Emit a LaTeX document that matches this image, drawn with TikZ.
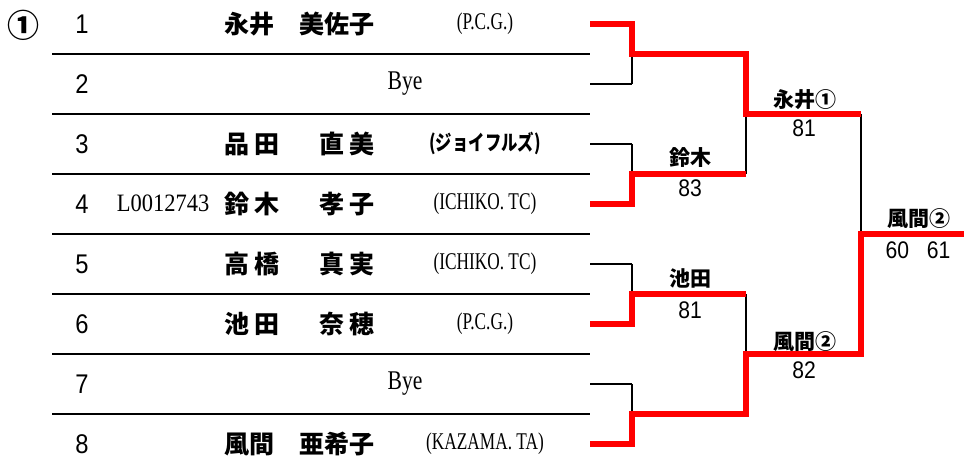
\documentclass[tikz,border=0pt]{standalone}
\usepackage{fontspec}
\usepackage{graphicx}
\newfontfamily\jp{Noto Sans CJK JP}
\newfontfamily\numf{Liberation Sans}[FakeStretch=0.88]
\newfontfamily\serf{Liberation Serif}[FakeStretch=0.72]
\newfontfamily\idf{Liberation Serif}[FakeStretch=0.9]
\newfontfamily\byef{Liberation Serif}[FakeStretch=0.8]
\newcommand\fivenm[5]{#1#2\hspace{25pt}#3#4#5}
\newcommand\fournm[4]{#1\hspace{5pt}#2\hspace{40pt}#3\hspace{5pt}#4}
\tikzset{
  rowline/.style={line width=2.2pt, black},
  winline/.style={line width=6.5pt, red, line join=miter},
  blkh/.style={line width=2.6pt, black},
  blkv/.style={line width=1.6pt, black},
  numtxt/.style={inner sep=0pt, font=\numf\fontsize{27}{30}\selectfont},
  nmtxt/.style={inner sep=0pt, anchor=west, font=\jp\bfseries\fontsize{25}{30}\selectfont},
  afftxt/.style={inner sep=0pt, font=\serf\fontsize{24}{28}\selectfont},
  byetxt/.style={inner sep=0pt, font=\byef\fontsize{27}{30}\selectfont},
  wintxt/.style={inner sep=0pt, font=\jp\bfseries\fontsize{21}{24}\selectfont},
  scoretxt/.style={inner sep=0pt, font=\numf\fontsize{24}{28}\selectfont}
}
\begin{document}
\begin{tikzpicture}[x=1pt,y=-1pt]
\useasboundingbox (0,0) rectangle (964,473);
% seed mark
\node[inner sep=0pt, font=\jp\bfseries\fontsize{32}{34}\selectfont] (seed) at (23,25) {①};
% row numbers
\foreach \i in {1,...,8} {
  \node[numtxt] (r\i) at (82,{24+60*(\i-1)}) {\i};
}
% separators
\draw[rowline, line width=2.8pt] (52,54) -- (590,54);
\foreach \y in {114,174,234,294,354,414} {
  \draw[rowline] (52,\y) -- (590,\y);
}
% names
\node[nmtxt] (n1) at (224,24) {\fivenm{永}{井}{美}{佐}{子}};
\node[byetxt] (n2) at (405,84) {Bye};
\node[nmtxt] (n3) at (224,144) {\fournm{品}{田}{直}{美}};
\node[inner sep=0pt, font=\idf\fontsize{25}{28}\selectfont] (id4) at (163,203) {L0012743};
\node[nmtxt] (n4) at (224,204) {\fournm{鈴}{木}{孝}{子}};
\node[nmtxt] (n5) at (224,264) {\fournm{高}{橋}{真}{実}};
\node[nmtxt] (n6) at (224,324) {\fournm{池}{田}{奈}{穂}};
\node[byetxt] (n7) at (405,384) {Bye};
\node[nmtxt] (n8) at (224,444) {\fivenm{風}{間}{亜}{希}{子}};
% affiliations
\node[afftxt] (a1) at (485,24) {(P.C.G.)};
\node[inner sep=0pt] (a3) at (485,143) {\scalebox{0.78}[1]{\jp\bfseries\fontsize{21}{24}\selectfont (ジョイフルズ)}};
\node[afftxt] (a4) at (485,204) {(ICHIKO. TC)};
\node[afftxt] (a5) at (485,264) {(ICHIKO. TC)};
\node[afftxt] (a6) at (485,324) {(P.C.G.)};
\node[afftxt] (a8) at (485,444) {(KAZAMA. TA)};
% bracket coordinates
\foreach \i in {1,...,8} {
  \coordinate (e\i) at (590,{24+60*(\i-1)});
}
\coordinate (m12) at (632,54);
\coordinate (m34) at (632,174);
\coordinate (m56) at (632,294);
\coordinate (m78) at (632,414);
\coordinate (s1) at (746,114);
\coordinate (s2) at (746,354);
\coordinate (f) at (861,234);
\coordinate (fe) at (964,234);
% black (losing) lines
\draw[blkh] (e2) -- (e2 -| m12);
\draw[blkv] (e2 -| m12) -- (m12);
\draw[blkh] (e3) -- (e3 -| m34);
\draw[blkv] (e3 -| m34) -- (m34);
\draw[blkh] (e5) -- (e5 -| m56);
\draw[blkv] (e5 -| m56) -- (m56);
\draw[blkh] (e7) -- (e7 -| m78);
\draw[blkv] (e7 -| m78) -- (m78);
\draw[blkv] (m34 -| s1) -- (s1);
\draw[blkv] (m56 -| s2) -- (s2);
\draw[blkv] (s1 -| f) -- (f);
% red (winning) lines
\draw[winline] (e1) -| (m12) -| (s1) -- (s1 -| f);
\draw[winline] (e4) -| (m34) -- (m34 -| s1);
\draw[winline] (e6) -| (m56) -- (m56 -| s2);
\draw[winline] (e8) -| (m78) -| (s2) -| (f) -- (fe);
% winner labels and scores
\node[wintxt] (w34) at (690,158) {鈴木};
\node[scoretxt] (sc34) at (690,188) {83};
\node[wintxt] (w56) at (690,278) {池田};
\node[scoretxt] (sc56) at (690,310) {81};
\node[wintxt] (ws1) at (805,100) {永井①};
\node[scoretxt] (scs1) at (804,128) {81};
\node[wintxt] (ws2) at (805,342) {風間②};
\node[scoretxt] (scs2) at (804,370) {82};
\node[wintxt] (wf) at (919,219) {風間②};
\node[scoretxt] (scf) at (918,250) {60\hspace{18pt}61};
\end{tikzpicture}
\end{document}
